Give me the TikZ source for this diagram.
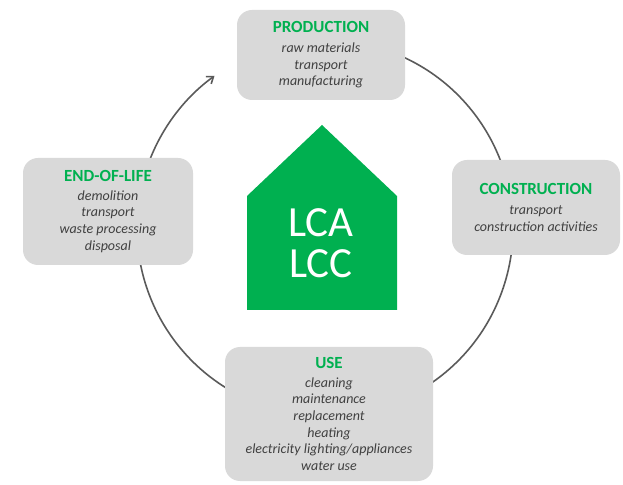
\documentclass[tikz,border=0pt]{standalone}
\usepackage{fontspec}
\setmainfont{Carlito}
\usepackage{xcolor}
\usetikzlibrary{arrows.meta, backgrounds, calc}
\definecolor{lcgreen}{RGB}{0, 176, 80}
\definecolor{lcgray}{RGB}{217, 217, 217}
\definecolor{lctext}{RGB}{64, 64, 64}
\definecolor{lcring}{RGB}{90, 90, 90}
\newcommand{\stagetitle}[1]{{\color{lcgreen}\upshape\bfseries\fontsize{17}{19}\selectfont #1}}

\begin{document}
\begin{tikzpicture}[
  x=1pt, y=1pt,
  stage/.style={rectangle, fill=lcgray, rounded corners=15pt, align=center,
                text=lctext, font=\fontsize{14}{16.6}\selectfont\itshape},
  ring/.style={-{Straight Barb[length=6pt, width=9pt]}, color=lcring, line width=1.6pt},
  house/.style={fill=lcgreen},
  lcalabel/.style={text=white, align=center, font=\fontsize{43}{41}\selectfont}
]
\useasboundingbox (0,0) rectangle (623,484);
\coordinate (hub) at (325,256);

\node[stage, minimum width=168pt, minimum height=90pt] (prod) at (321,429)
  {\stagetitle{PRODUCTION}\\[3pt] raw materials\\ transport\\ manufacturing};
\node[stage, minimum width=168pt, minimum height=95pt] (cons) at (536,276.5)
  {\stagetitle{CONSTRUCTION}\\[3pt] transport\\ construction activities};
\node[stage, minimum width=208pt, minimum height=134pt] (use) at (329,70)
  {\stagetitle{USE}\\[2pt] cleaning\\ maintenance\\ replacement\\ heating\\ electricity lighting/appliances\\ water use};
\node[stage, minimum width=170pt, minimum height=107pt] (eol) at (108,272.5)
  {\stagetitle{END-OF-LIFE}\\[2pt] demolition\\ transport\\ waste processing\\ disposal};

% house in the middle
\fill[house] (247,174) -- (397,174) -- (397,288) -- (322,359) -- (247,288) -- cycle;
\node[lcalabel] (lca) at (321,241) {LCA\\LCC};

% life cycle ring, behind the boxes
\begin{scope}[on background layer]
\draw[ring] ($(hub)+(70:188)$) arc[start angle=70, end angle=-234, radius=188];
\end{scope}
\end{tikzpicture}
\end{document}
